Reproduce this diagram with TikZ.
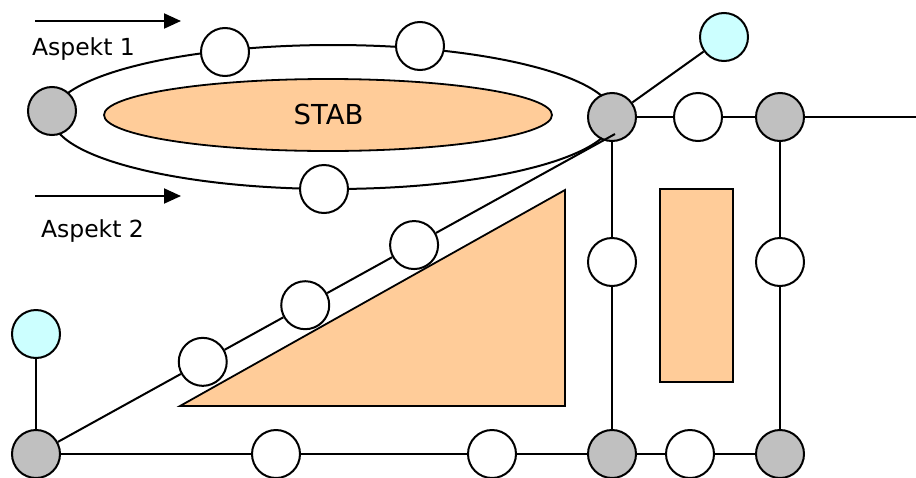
\documentclass[tikz,border=0pt]{standalone}
\usepackage{fontspec}
\setmainfont{DejaVu Sans}
\usetikzlibrary{arrows.meta,calc}
\definecolor{peach}{HTML}{FFCC99}
\definecolor{nodegray}{HTML}{C0C0C0}
\definecolor{lightcyan}{HTML}{CCFFFF}
\begin{document}
\begin{tikzpicture}[x=1pt,y=-1pt,line width=2pt,
  dot/.style={circle,draw=black,line width=2pt,minimum size=48pt,inner sep=0pt},
  hub/.style={dot,fill=nodegray},
  relay/.style={dot,fill=white},
  tip/.style={dot,fill=lightcyan},
  area/.style={draw=black,line width=1.8pt,fill=peach},
  label/.style={anchor=base,inner sep=0pt,font=\fontsize{23.5}{27}\selectfont},
  flow/.style={-{Triangle[length=17pt,width=15pt]},line width=2pt}]
\useasboundingbox (0,0) rectangle (916,477);

% direction arrows with captions
\coordinate (a1s) at (35,21);
\coordinate (a1e) at (181,21);
\coordinate (a2s) at (35,196);
\coordinate (a2e) at (181,196);
\draw[flow] (a1s) -- (a1e);
\draw[flow] (a2s) -- (a2e);
\node[label] (asp1) at (83.5,55) {Aspekt 1};
\node[label] (asp2) at (92.5,237) {Aspekt 2};

% outer loop and the STAB area
\draw (333,117) ellipse [x radius=281pt, y radius=72pt];
\draw[area] (328,115) ellipse [x radius=224pt, y radius=36pt];
\node[label,font=\fontsize{27.5}{31}\selectfont] (stab) at (328.5,124) {STAB};

% filled areas
\draw[area] (180,406) -- (565,406) -- (565,190) -- cycle;
\draw[area] (660,189) rectangle (733,382);

% nodes
\node[hub] (gL1) at (52,111) {};
\node[hub] (gR1) at (612,117) {};
\node[hub] (gR2) at (780,117) {};
\node[hub] (gL2) at (36,454) {};
\node[hub] (gB1) at (612,454) {};
\node[hub] (gB2) at (780,454) {};

\node[relay] (e1) at (225,52) {};
\node[relay] (e2) at (420,46) {};
\node[relay] (e3) at (324,189) {};
\node[relay] (wR) at (698,117) {};
\node[relay] (v1) at (612,262) {};
\node[relay] (v2) at (780,262) {};
\node[relay] (b1) at (276,454) {};
\node[relay] (b2) at (492,454) {};
\node[relay] (b3) at (690,454) {};

\coordinate (dEnd) at (615,134);
\node[relay] (d1) at ($(gL2)!0.288!(dEnd)$) {};
\node[relay] (d2) at ($(gL2)!0.465!(dEnd)$) {};
\node[relay] (d3) at ($(gL2)!0.653!(dEnd)$) {};

\node[tip] (cT) at (724,37) {};
\node[tip] (cL) at (36,334) {};

\coordinate (rEnd) at (916,117);

% connectors
\draw (gR1) -- (wR) -- (gR2) -- (rEnd);
\draw (gR1) -- (cT);
\draw (gR1) -- (v1) -- (gB1);
\draw (gR2) -- (v2) -- (gB2);
\draw (cL) -- (gL2);
\draw (gL2) -- (b1) -- (b2) -- (gB1) -- (b3) -- (gB2);
\draw (gL2) -- (d1) -- (d2) -- (d3) -- (dEnd);
\end{tikzpicture}
\end{document}
